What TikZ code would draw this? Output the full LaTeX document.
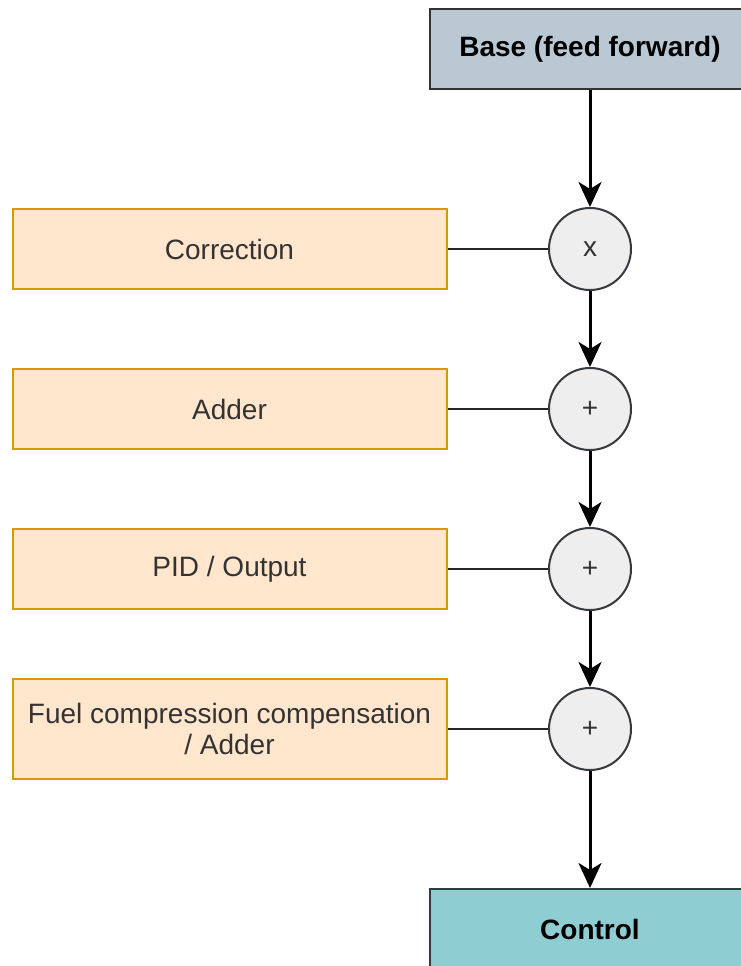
\documentclass[tikz,border=0pt]{standalone}
\usepackage{fontspec}
\setmainfont{Liberation Sans}
\usetikzlibrary{arrows.meta}
\definecolor{basefill}{HTML}{BAC8D3}
\definecolor{orfill}{HTML}{FFE6CC}
\definecolor{ordraw}{HTML}{D79B00}
\definecolor{cfill}{HTML}{EEEEEE}
\definecolor{cdraw}{HTML}{36393D}
\definecolor{ctlfill}{HTML}{8ECDD2}
\definecolor{txt}{HTML}{333333}
\tikzset{
  lbl/.style={font=\fontsize{28}{31}\selectfont},
  topbox/.style={draw=black!80, fill=basefill, line width=2pt, minimum width=320pt, minimum height=80pt, font=\fontsize{28}{31}\selectfont\bfseries, inner sep=0pt},
  ctlbox/.style={draw=cdraw, fill=ctlfill, line width=2pt, minimum width=320pt, minimum height=80pt, font=\fontsize{28}{31}\selectfont\bfseries, inner sep=0pt},
  orbox/.style={lbl, draw=ordraw, fill=orfill, line width=2pt, minimum width=434pt, minimum height=80pt, text=txt, align=center, inner sep=0pt},
  opnode/.style={lbl, circle, draw=cdraw, fill=cfill, line width=2pt, minimum size=82pt, inner sep=0pt, text=txt},
  flow/.style={line width=3pt, -{Stealth[length=25pt,width=23pt,inset=7pt]}},
  link/.style={line width=2pt, draw=black!85}
}
\begin{document}
\begin{tikzpicture}[x=1pt,y=-1pt]
\useasboundingbox (0,0) rectangle (741,966);
\node[topbox] (base) at (590,49) {Base (feed forward)};
\node[ctlbox] (ctl) at (590,929) {Control};
\node[orbox] (corr) at (229.5,249) {Correction};
\node[orbox] (add) at (229.5,409) {Adder};
\node[orbox] (pid) at (229.5,569) {PID / Output};
\node[orbox, minimum height=100pt] (fuel) at (229.5,729) {Fuel compression compensation\\/ Adder};
\node[opnode] (c1) at (590,249) {x};
\node[opnode] (c2) at (590,409) {+};
\node[opnode] (c3) at (590,569) {+};
\node[opnode] (c4) at (590,729) {+};
\draw[flow] (base) -- (c1);
\draw[flow] (c1) -- (c2);
\draw[flow] (c2) -- (c3);
\draw[flow] (c3) -- (c4);
\draw[flow] (c4) -- (ctl);
\draw[link] (corr) -- (c1);
\draw[link] (add) -- (c2);
\draw[link] (pid) -- (c3);
\draw[link] (fuel) -- (c4);
\end{tikzpicture}
\end{document}
